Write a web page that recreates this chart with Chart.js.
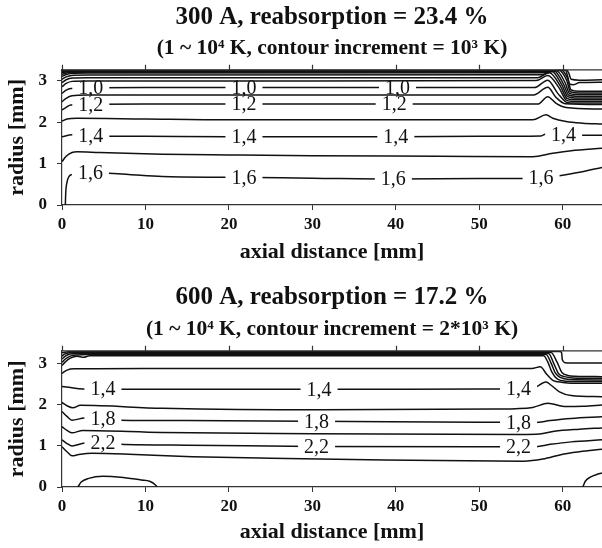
<!DOCTYPE html>
<html>
<head>
<meta charset="utf-8">
<script src="https://cdn.jsdelivr.net/npm/chart.js@4.4.0/dist/chart.umd.min.js"></script>
<style>
  body { margin: 0; background: #fff; }
  .painel { position: absolute; left: 0; width: 602px; height: 274px; }
</style>
</head>
<body>
<div class="painel" style="top:0"><canvas id="grafico300" width="602" height="274"></canvas></div>
<div class="painel" style="top:274px"><canvas id="grafico600" width="602" height="274"></canvas></div>
<script>
// ticks dos eixos (mm)
let ticksX = [0, 10, 20, 30, 40, 50, 60];
let ticksY = [0, 1, 2, 3];

// ---- 300 A: isotermas de 1e3 K (valores em 1e4 K), pontos [axial, raio]
let c300_01 = [[0,3.263],[60.4,3.268],[60.7,3.2],[61,3.04],[62,3.02],[64.7,3.03]];
let c300_02 = [[0,3.25],[1,3.258],[60,3.262],[60.3,3.268],[60.6,3.1],[60.8,2.93],[61.3,2.91],[62,2.96],[64.7,2.97]];
let c300_03 = [[0,3.23],[0.9,3.245],[59.5,3.252],[59.8,3.267],[60.6,3.05],[61,2.78],[62,2.75],[64.7,2.75]];
let c300_04 = [[0,3.2],[0.8,3.225],[1.7,3.232],[59.1,3.24],[59.5,3.265],[60.5,3.0],[60.9,2.74],[62,2.71],[64.7,2.71]];
let c300_05 = [[0,3.16],[0.7,3.2],[1.6,3.21],[58.7,3.22],[59.2,3.262],[60.3,2.95],[60.8,2.70],[61.8,2.67],[64.7,2.67]];
let c300_06 = [[0,3.11],[0.6,3.16],[1.5,3.185],[3,3.19],[58.2,3.2],[58.9,3.255],[60.1,2.92],[60.7,2.66],[61.6,2.63],[64.7,2.63]];
let c300_07 = [[0,3.04],[0.5,3.1],[1.4,3.14],[3,3.145],[57.5,3.15],[58.6,3.245],[59.9,2.9],[60.6,2.62],[61.4,2.59],[64.7,2.59]];
let c300_08 = [[0,2.96],[0.5,3.03],[1.3,3.07],[3,3.08],[57,3.08],[58.4,3.2],[59.7,2.88],[60.5,2.58],[61.2,2.55],[64.7,2.55]];
let c300_09 = [[0,2.86],[0.5,2.94],[1.2,2.99],[3,3.0],[30,3.0],[56.8,3.01],[58.2,3.13],[59.5,2.85],[60.4,2.54],[61,2.51],[64.7,2.51]];
let c300_10 = [[0,2.70],[0.5,2.78],[1.05,2.82],[10,2.84],[56.6,2.84],[58.2,3.02],[59.4,2.7],[60.4,2.49],[61,2.47],[64.7,2.47]];
let c300_11 = [[0,2.50],[0.5,2.58],[1.2,2.64],[3,2.66],[56.5,2.66],[58.2,2.85],[59.2,2.6],[60.3,2.45],[64.7,2.43]];
let c300_12 = [[0,2.30],[0.5,2.36],[1.05,2.42],[10,2.44],[57,2.44],[58.2,2.62],[59.2,2.46],[60.4,2.36],[64.7,2.32]];
let c300_13 = [[0,2.03],[0.6,2.08],[1.8,2.10],[10,2.08],[20,2.06],[56.4,2.06],[58,2.18],[58.8,2.10],[60.4,2.02],[62.4,1.98],[64.7,1.96]];
let c300_14 = [[0,1.65],[1.2,1.70],[3.5,1.67],[10,1.66],[20,1.65],[40,1.65],[50,1.66],[57.4,1.67],[58,1.72],[59,1.70],[61,1.69],[64.7,1.69]];
let c300_15 = [[0,1.05],[0.5,1.18],[1.2,1.27],[1.8,1.29],[4.5,1.27],[12,1.23],[20,1.21],[30,1.19],[45,1.18],[56.4,1.17],[58.8,1.25],[61,1.31],[64.7,1.37]];
let c300_16 = [[0.4,0],[0.45,0.3],[0.6,0.55],[1.1,0.73],[3.5,0.77],[5.5,0.77],[8,0.74],[12,0.69],[20,0.67],[30,0.65],[40,0.63],[50,0.64],[56,0.64],[58,0.66],[59.4,0.70],[62,0.79],[64.7,0.91]];

// posição axial dos rótulos de cada isoterma
let rot300_10 = [3.45, 21.8, 40.2];
let rot300_12 = [3.45, 21.8, 39.8];
let rot300_14 = [3.45, 21.8, 40.0, 60.1];
let rot300_16 = [3.4, 21.8, 39.7, 57.4];

// ---- 600 A: isotermas de 2e3 K
let c600_02 = [[0,3.27],[0.5,3.29],[1.2,3.30],[59.6,3.305],[59.85,3.28],[59.95,3.1],[60.3,3.03],[61,3.02],[64.7,3.02]];
let c600_04 = [[0,3.19],[0.3,3.24],[0.8,3.27],[1.5,3.28],[58.6,3.28],[59.3,3.05],[59.9,2.79],[60.6,2.72],[61.5,2.70],[64.7,2.69]];
let c600_06 = [[0,3.12],[0.4,3.19],[1.0,3.24],[2,3.255],[58.3,3.255],[58.9,3.02],[59.5,2.76],[60.2,2.69],[61.2,2.66],[64.7,2.65]];
let c600_08 = [[0,3.04],[0.4,3.12],[1.0,3.19],[1.8,3.22],[3,3.23],[58.0,3.23],[58.6,3.02],[59.1,2.78],[59.7,2.67],[60.8,2.62],[64.7,2.61]];
let c600_10 = [[0,2.96],[0.4,3.05],[1.0,3.14],[1.8,3.19],[2.6,3.16],[3.3,3.2],[57.7,3.20],[58.2,3.05],[58.7,2.80],[59.3,2.64],[60.4,2.58],[64.7,2.57]];
let c600_12 = [[0,2.77],[0.6,2.85],[1.5,2.88],[10,2.89],[56.3,2.89],[57.3,2.93],[58.1,2.74],[58.8,2.6],[60,2.55],[61,2.53],[64.7,2.53]];
let c600_14 = [[0,2.45],[0.8,2.43],[2.5,2.39],[10,2.38],[30,2.38],[50,2.39],[56.4,2.41],[58.0,2.56],[58.6,2.48],[59.6,2.32],[61,2.23],[64.7,2.20]];
let c600_16 = [[0,2.06],[0.6,1.98],[1.3,1.93],[2.2,1.99],[12,1.92],[31,1.88],[52,1.90],[56.4,1.94],[58.2,2.04],[60.4,1.96],[62.5,1.97],[64.7,2.0]];
let c600_18 = [[0,1.84],[0.6,1.72],[1.2,1.63],[2.7,1.68],[5,1.67],[7,1.63],[15,1.62],[30,1.60],[50,1.58],[56.6,1.57],[58.5,1.62],[61,1.67],[64.7,1.71]];
let c600_20 = [[0,1.47],[0.6,1.38],[1.2,1.32],[2.5,1.38],[12,1.33],[30,1.30],[55,1.28],[57.2,1.29],[59,1.36],[62,1.41],[64.7,1.44]];
let c600_22 = [[0,1.15],[0.6,1.06],[1.2,1.0],[2.7,1.07],[5,1.08],[7,1.04],[15,1.02],[30,0.99],[50,0.98],[56.5,0.98],[58.5,1.04],[61,1.10],[64.7,1.15]];
let c600_24 = [[0,0.98],[0.6,0.86],[1.2,0.76],[2,0.79],[3.6,0.82],[8,0.80],[15.6,0.74],[25,0.70],[38.7,0.66],[55.3,0.63],[57.6,0.68],[60,0.80],[62,0.86],[64.7,0.92]];
let c600_26a = [[1.9,0],[2.3,0.12],[3.2,0.21],[4.9,0.26],[7,0.24],[9.5,0.17],[10.5,0.14],[11.2,0.05],[11.4,0]];
let c600_26b = [[62.4,0],[62.7,0.14],[63.3,0.24],[64,0.30],[64.7,0.34]];

let rot600_14 = [4.9, 30.8, 54.7];
let rot600_18 = [4.9, 30.5, 54.7];
let rot600_22 = [4.9, 30.5, 54.7];

const fonte = "'Liberation Serif', 'Times New Roman', serif";

function interpolarY(pontos, x) {
  for (let i = 1; i < pontos.length; i++) {
    let [x0, y0] = pontos[i - 1];
    let [x1, y1] = pontos[i];
    if (x >= x0 && x <= x1) return y0 + (y1 - y0) * (x - x0) / (x1 - x0);
  }
  return pontos[pontos.length - 1][1];
}

// rótulos em linha: apaga um trecho da curva e escreve o valor por cima
const rotulosPlugin = {
  id: "rotulos",
  afterDatasetsDraw(chart) {
    let ctx = chart.ctx;
    let area = chart.chartArea;
    ctx.save();
    ctx.beginPath();
    ctx.rect(area.left, area.top, area.right - area.left, area.bottom - area.top);
    ctx.clip();
    ctx.font = "20px " + fonte;
    ctx.textAlign = "center";
    ctx.textBaseline = "middle";
    chart.data.datasets.forEach((ds) => {
      if (!ds.rotulos) return;
      ds.rotulos.forEach((x) => {
        let y = interpolarY(ds.pontos, x);
        let px = chart.scales.x.getPixelForValue(x);
        let py = chart.scales.y.getPixelForValue(y);
        let w = ctx.measureText(ds.texto).width + 12;
        ctx.fillStyle = "#fff";
        ctx.fillRect(px - w / 2, py - 5, w, 10);
        ctx.fillStyle = "#111";
        ctx.fillText(ds.texto, px, py + 1);
      });
    });
    ctx.restore();
  },
};

// borda superior com ticks para fora
const bordaTopoPlugin = {
  id: "bordaTopo",
  afterDraw(chart) {
    let ctx = chart.ctx;
    let area = chart.chartArea;
    ctx.save();
    ctx.strokeStyle = "#333";
    ctx.lineWidth = 1.2;
    ctx.beginPath();
    ctx.moveTo(area.left, area.top);
    ctx.lineTo(area.right, area.top);
    ticksX.forEach((v) => {
      let px = Math.round(chart.scales.x.getPixelForValue(v)) + 0.5;
      ctx.moveTo(px, area.top);
      ctx.lineTo(px, area.top - 5);
    });
    ctx.stroke();
    ctx.restore();
  },
};

function montarGrafico(id, cfg) {
  let datasets = cfg.contornos.map((c) => ({
    data: c.pontos.map((p) => ({ x: p[0], y: p[1] })),
    pontos: c.pontos,
    texto: c.texto,
    rotulos: c.rotulos,
    showLine: true,
    pointRadius: 0,
    borderColor: "#111",
    borderWidth: 1.5,
    cubicInterpolationMode: "monotone",
  }));

  return new Chart(document.getElementById(id), {
    type: "scatter",
    data: { datasets: datasets },
    plugins: [rotulosPlugin, bordaTopoPlugin],
    options: {
      responsive: false,
      animation: false,
      layout: { padding: 0 },
      plugins: {
        legend: { display: false },
        tooltip: { enabled: false },
        title: {
          display: true,
          text: cfg.titulo,
          fullSize: false,
          color: "#111",
          font: { family: fonte, size: 25, weight: "bold" },
          padding: { top: cfg.padTitulo, bottom: 0 },
        },
        subtitle: {
          display: true,
          text: cfg.subtitulo,
          fullSize: false,
          color: "#111",
          font: { family: fonte, size: 21.5, weight: "bold" },
          padding: { top: cfg.padSub, bottom: 8 },
        },
      },
      scales: {
        x: {
          type: "linear",
          min: 0,
          max: 64.7,
          afterFit: (s) => { s.height = cfg.alturaX; },
          afterBuildTicks: (s) => { s.ticks = ticksX.map((v) => ({ value: v })); },
          grid: { drawOnChartArea: false, tickLength: 5, color: "#333" },
          border: { color: "#333", width: 1.2 },
          ticks: { color: "#111", padding: 4, maxRotation: 0, autoSkip: false, font: { family: fonte, size: 17, weight: "bold" } },
          title: {
            display: true,
            text: "axial distance [mm]",
            color: "#111",
            font: { family: fonte, size: 22, weight: "bold" },
            padding: { top: 0, bottom: cfg.padTituloX },
          },
        },
        y: {
          type: "linear",
          min: 0,
          max: cfg.yMax,
          afterFit: (s) => { s.width = 62; },
          afterBuildTicks: (s) => { s.ticks = ticksY.map((v) => ({ value: v })); },
          grid: { drawOnChartArea: false, tickLength: 5, color: "#333" },
          border: { color: "#333", width: 1.2 },
          ticks: { color: "#111", padding: 10, font: { family: fonte, size: 17, weight: "bold" } },
          title: {
            display: true,
            text: "radius [mm]",
            color: "#111",
            font: { family: fonte, size: 22, weight: "bold" },
            padding: { top: 4, bottom: 0 },
          },
        },
      },
    },
  });
}

montarGrafico("grafico300", {
  titulo: "300 A, reabsorption = 23.4 %",
  subtitulo: "(1 ~ 10\u2074 K, contour increment = 10\u00b3 K)",
  padTitulo: 3,
  padSub: 3,
  alturaX: 69,
  padTituloX: 8,
  yMax: 3.27,
  contornos: [
    { pontos: c300_01 }, { pontos: c300_02 }, { pontos: c300_03 }, { pontos: c300_04 },
    { pontos: c300_05 }, { pontos: c300_06 }, { pontos: c300_07 }, { pontos: c300_08 },
    { pontos: c300_09 },
    { pontos: c300_10, texto: "1,0", rotulos: rot300_10 },
    { pontos: c300_11 },
    { pontos: c300_12, texto: "1,2", rotulos: rot300_12 },
    { pontos: c300_13 },
    { pontos: c300_14, texto: "1,4", rotulos: rot300_14 },
    { pontos: c300_15 },
    { pontos: c300_16, texto: "1,6", rotulos: rot300_16 },
  ],
});

montarGrafico("grafico600", {
  titulo: "600 A, reabsorption = 17.2 %",
  subtitulo: "(1 ~ 10\u2074 K, contour increment = 2*10\u00b3 K)",
  padTitulo: 9,
  padSub: 4,
  alturaX: 61,
  padTituloX: 2,
  yMax: 3.32,
  contornos: [
    { pontos: c600_02 }, { pontos: c600_04 }, { pontos: c600_06 }, { pontos: c600_08 },
    { pontos: c600_10 }, { pontos: c600_12 },
    { pontos: c600_14, texto: "1,4", rotulos: rot600_14 },
    { pontos: c600_16 },
    { pontos: c600_18, texto: "1,8", rotulos: rot600_18 },
    { pontos: c600_20 },
    { pontos: c600_22, texto: "2,2", rotulos: rot600_22 },
    { pontos: c600_24 },
    { pontos: c600_26a }, { pontos: c600_26b },
  ],
});
</script>
</body>
</html>
